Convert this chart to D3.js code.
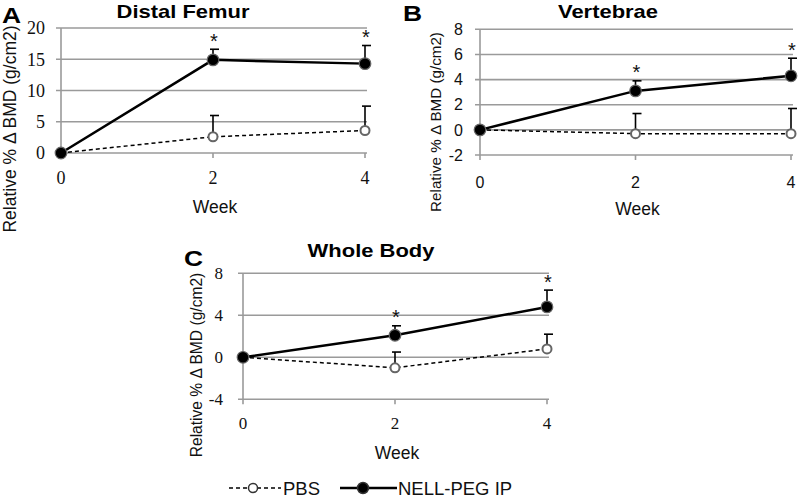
<!DOCTYPE html>
<html>
<head>
<meta charset="utf-8">
<script src="https://cdn.jsdelivr.net/npm/d3@7"></script>
<style>
  body { margin: 0; background: #fff; }
  svg { display: block; }
</style>
</head>
<body>
<svg id="chart" width="800" height="500"></svg>
<script>
// values (relative % change in BMD)
var weeks = [0, 2, 4];

var femurNell = [0, 14.9, 14.3];
var femurNellErr = [0, 1.7, 2.9];
var femurPbs = [0, 2.6, 3.6];
var femurPbsErr = [0, 3.4, 3.9];

var vertNell = [0, 3.1, 4.3];
var vertNellErr = [0, 0.8, 1.4];
var vertPbs = [0, -0.3, -0.3];
var vertPbsErr = [0, 1.6, 2.0];

var wholeNell = [0, 2.1, 4.8];
var wholeNellErr = [0, 0.9, 1.6];
var wholePbs = [0, -1.0, 0.8];
var wholePbsErr = [0, 1.5, 1.4];

var significant = [false, true, true];

var femurTicks = [0, 5, 10, 15, 20];
var vertTicks = [-2, 0, 2, 4, 6, 8];
var wholeTicks = [-4, 0, 4, 8];

var legendLabels = ["PBS", "NELL-PEG IP"];

var svg = d3.select("#chart");
var sans = "Arial, 'Liberation Sans', sans-serif";
var serif = "'Liberation Serif', 'DejaVu Serif', serif";

// bold headings in the figure are set a bit wider than plain Arial
function wideText(g, x, y, str, size, sx, anchor) {
  return g.append("text")
    .attr("transform", "translate(" + x + "," + y + ") scale(" + sx + ",1)")
    .attr("text-anchor", anchor)
    .attr("font-family", sans)
    .attr("font-weight", "bold")
    .attr("font-size", size)
    .attr("fill", "#000")
    .text(str);
}

function panel(cfg) {
  var x = d3.scaleLinear().domain([0, 4]).range([cfg.left, cfg.right]);
  var y = d3.scaleLinear().domain(cfg.domain).range([cfg.bottom, cfg.top]);
  var g = svg.append("g");

  // gridlines
  g.append("g").selectAll("line")
    .data(cfg.ticks)
    .enter().append("line")
      .attr("x1", cfg.left - 5)
      .attr("x2", cfg.right + 2)
      .attr("y1", function(d) { return y(d); })
      .attr("y2", function(d) { return y(d); })
      .attr("stroke", "#9a9a9a")
      .attr("stroke-width", 1.6);

  // y axis line
  g.append("line")
    .attr("x1", cfg.left).attr("x2", cfg.left)
    .attr("y1", y(cfg.domain[1])).attr("y2", y(cfg.domain[0]) + 5)
    .attr("stroke", "#9a9a9a").attr("stroke-width", 1.6);

  // x ticks at the bottom
  var xBase = y(cfg.domain[0]);
  g.append("g").selectAll("line")
    .data(weeks.slice(1))
    .enter().append("line")
      .attr("x1", function(d) { return x(d); })
      .attr("x2", function(d) { return x(d); })
      .attr("y1", xBase).attr("y2", xBase + 5)
      .attr("stroke", "#9a9a9a").attr("stroke-width", 1.6);

  // y tick labels
  g.append("g").selectAll("text")
    .data(cfg.ticks)
    .enter().append("text")
      .attr("x", cfg.left - cfg.tickGap)
      .attr("y", function(d) { return y(d); })
      .attr("dy", "0.36em")
      .attr("text-anchor", "end")
      .attr("font-family", cfg.tickFont)
      .attr("font-size", cfg.tickSize)
      .attr("fill", "#111")
      .text(function(d) { return d; });

  // x tick labels
  g.append("g").selectAll("text")
    .data(weeks)
    .enter().append("text")
      .attr("x", function(d) { return x(d); })
      .attr("y", cfg.xLabelY)
      .attr("dy", "0.36em")
      .attr("text-anchor", "middle")
      .attr("font-family", cfg.tickFont)
      .attr("font-size", cfg.tickSize)
      .attr("fill", "#111")
      .text(function(d) { return d; });

  g.append("text")
    .attr("x", (cfg.left + cfg.right) / 2 + 2)
    .attr("y", cfg.weekY)
    .attr("dy", "0.36em")
    .attr("text-anchor", "middle")
    .attr("font-family", sans)
    .attr("font-size", 17.5)
    .attr("fill", "#111")
    .text("Week");

  g.append("text")
    .attr("transform", "translate(" + cfg.ylabX + "," + cfg.ylabY + ") rotate(-90)")
    .attr("text-anchor", "middle")
    .attr("dy", "0.36em")
    .attr("font-family", sans)
    .attr("font-size", cfg.ylabSize)
    .attr("fill", "#111")
    .text("Relative % \u0394 BMD (g/cm2)");

  wideText(g, cfg.titleX, cfg.titleY, cfg.title, 18, 1.22, "middle");
  wideText(g, cfg.letterX, cfg.letterY, cfg.letter, 22, 1.2, "start");

  var line = d3.line()
    .x(function(d, i) { return x(weeks[i]); })
    .y(function(d) { return y(d); });

  function errBars(vals, errs) {
    var eg = g.append("g");
    weeks.forEach(function(w, i) {
      if (!errs[i]) return;
      var top = y(vals[i] + errs[i]);
      eg.append("line")
        .attr("x1", x(w)).attr("x2", x(w))
        .attr("y1", y(vals[i])).attr("y2", top)
        .attr("stroke", "#000").attr("stroke-width", 1.6);
      eg.append("line")
        .attr("x1", x(w) - 3).attr("x2", x(w) + 6)
        .attr("y1", top).attr("y2", top)
        .attr("stroke", "#000").attr("stroke-width", 1.6);
    });
  }

  errBars(cfg.pbs, cfg.pbsErr);
  errBars(cfg.nell, cfg.nellErr);

  g.append("path")
    .datum(cfg.pbs)
    .attr("fill", "none")
    .attr("stroke", "#000")
    .attr("stroke-width", 1.5)
    .attr("stroke-dasharray", "4,3")
    .attr("d", line);

  g.append("path")
    .datum(cfg.nell)
    .attr("fill", "none")
    .attr("stroke", "#000")
    .attr("stroke-width", 2.5)
    .attr("d", line);

  g.append("g").selectAll("circle")
    .data(cfg.pbs)
    .enter().append("circle")
      .attr("cx", function(d, i) { return x(weeks[i]); })
      .attr("cy", function(d) { return y(d); })
      .attr("r", 4.5)
      .attr("fill", "#fff")
      .attr("stroke", "#666")
      .attr("stroke-width", 2);

  g.append("g").selectAll("circle")
    .data(cfg.nell)
    .enter().append("circle")
      .attr("cx", function(d, i) { return x(weeks[i]); })
      .attr("cy", function(d) { return y(d); })
      .attr("r", 5.8)
      .attr("fill", "#000")
      .attr("stroke", "#666")
      .attr("stroke-width", 1.2);

  g.append("g").selectAll("text")
    .data(weeks.filter(function(w, i) { return significant[i]; }))
    .enter().append("text")
      .attr("x", function(d) { return x(d) + 1; })
      .attr("y", function(d) {
        var i = weeks.indexOf(d);
        return y(cfg.nell[i] + cfg.nellErr[i]) - 1.5;
      })
      .attr("text-anchor", "middle")
      .attr("font-family", sans)
      .attr("font-size", 20)
      .attr("fill", "#111")
      .text("*");
}

panel({
  letter: "A", letterX: 2, letterY: 22.5,
  title: "Distal Femur", titleX: 183, titleY: 18,
  left: 61, right: 365, top: 28, bottom: 153,
  domain: [0, 20], ticks: femurTicks,
  tickFont: serif, tickSize: 18, tickGap: 16,
  xLabelY: 178, weekY: 207, ylabX: 10, ylabY: 129, ylabSize: 17.5,
  nell: femurNell, nellErr: femurNellErr, pbs: femurPbs, pbsErr: femurPbsErr
});

panel({
  letter: "B", letterX: 403, letterY: 21,
  title: "Vertebrae", titleX: 608, titleY: 18,
  left: 480, right: 791, top: 29.3, bottom: 155,
  domain: [-2, 8], ticks: vertTicks,
  tickFont: sans, tickSize: 16, tickGap: 17,
  xLabelY: 182, weekY: 209, ylabX: 436, ylabY: 122, ylabSize: 15.2,
  nell: vertNell, nellErr: vertNellErr, pbs: vertPbs, pbsErr: vertPbsErr
});

panel({
  letter: "C", letterX: 184, letterY: 266,
  title: "Whole Body", titleX: 371, titleY: 257,
  left: 243, right: 547, top: 273.3, bottom: 399.3,
  domain: [-4, 8], ticks: wholeTicks,
  tickFont: serif, tickSize: 17, tickGap: 20,
  xLabelY: 423, weekY: 453, ylabX: 196, ylabY: 365, ylabSize: 15.6,
  nell: wholeNell, nellErr: wholeNellErr, pbs: wholePbs, pbsErr: wholePbsErr
});

// legend
var legend = svg.append("g");
var legY = 488;
var legItems = [
  {x1: 229, x2: 281, cx: 253, tx: 283, dash: "4,3", w: 1.5, fill: "#fff", r: 4.5},
  {x1: 340, x2: 397, cx: 363, tx: 398, dash: null, w: 2.5, fill: "#000", r: 5.5}
];
legItems.forEach(function(it, i) {
  legend.append("line")
    .attr("x1", it.x1).attr("x2", it.x2)
    .attr("y1", legY).attr("y2", legY)
    .attr("stroke", "#000").attr("stroke-width", it.w)
    .attr("stroke-dasharray", it.dash);
  legend.append("circle")
    .attr("cx", it.cx).attr("cy", legY).attr("r", it.r)
    .attr("fill", it.fill).attr("stroke", "#333").attr("stroke-width", 1.5);
  legend.append("text")
    .attr("x", it.tx).attr("y", legY)
    .attr("dy", "0.36em")
    .attr("font-family", sans)
    .attr("font-size", 18.5)
    .attr("fill", "#111")
    .text(legendLabels[i]);
});
</script>
</body>
</html>
